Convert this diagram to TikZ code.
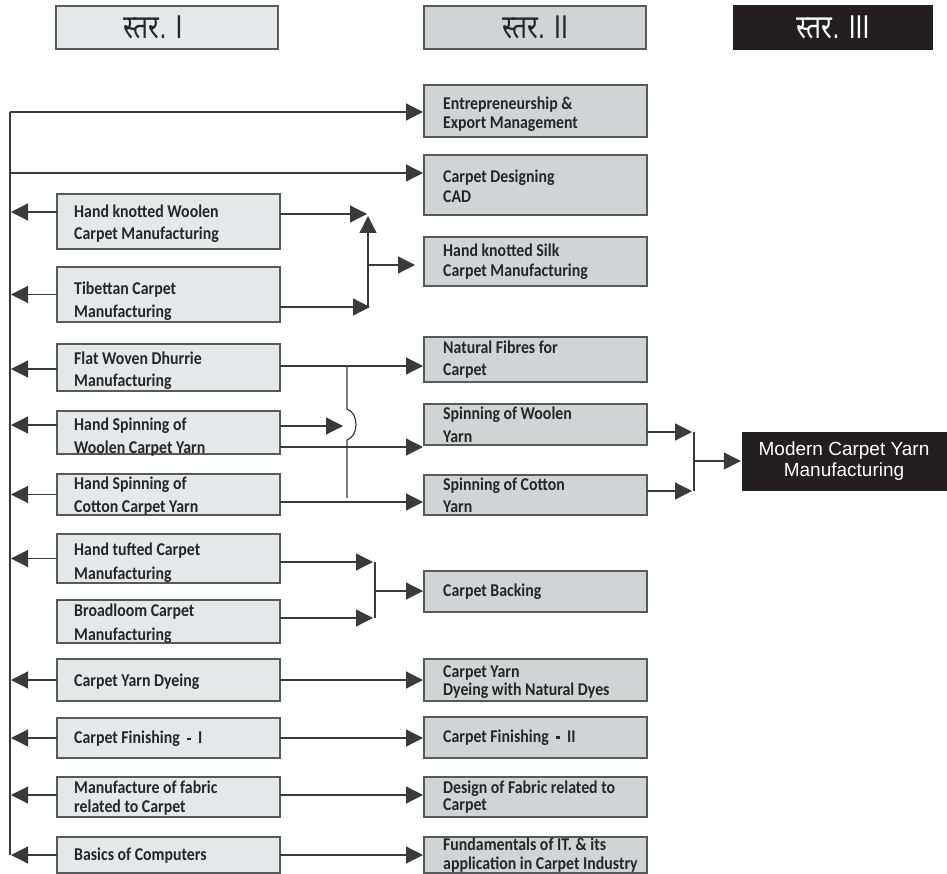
\documentclass[tikz,border=0pt]{standalone}
\usepackage{fontspec}
\usetikzlibrary{arrows.meta}
\newfontfamily\boxfont[FakeStretch=0.88]{Carlito}
\newfontfamily\devafont[Script=Devanagari,FakeStretch=0.8]{Noto Sans}
\newfontfamily\hlatin[FakeStretch=0.75]{Liberation Sans}
\newfontfamily\arialfont{Liberation Sans}
\definecolor{lfill}{HTML}{E6E7E8}
\definecolor{mfill}{HTML}{D1D3D4}
\definecolor{dark}{HTML}{231F20}
\definecolor{bord}{HTML}{58595B}
\definecolor{lnc}{HTML}{3A3A3A}
\tikzset{
  lbox/.style={draw=bord, line width=1.4pt, fill=lfill, inner sep=0pt, outer sep=0pt},
  mbox/.style={draw=bord, line width=1.4pt, fill=mfill, inner sep=0pt, outer sep=0pt},
  lboxtxt/.style={anchor=west, xshift=17pt, align=left, inner sep=0pt,
    font=\boxfont\bfseries\fontsize{18}{22}\selectfont, text=black!85},
  mboxtxt/.style={anchor=west, xshift=19pt, align=left, inner sep=0pt,
    font=\boxfont\bfseries\fontsize{18}{19.5}\selectfont, text=black!85},
  hbox/.style={draw=bord, line width=1.2pt, minimum width=222pt, minimum height=43pt,
    inner sep=0pt, font=\fontsize{33}{33}\selectfont, text=black!85},
  ln/.style={draw=lnc, line width=1.2pt},
  arr/.style={ln, shorten >=1pt, -{Triangle[length=17pt,width=17pt]}}
}
\newcommand\mybox[8][0]{\node[#2, minimum width={#6-#4}, minimum height={#7-#5},
  label={[#2txt, yshift=-#1pt]west:{#8}}] (#3) at ({(#4+#6)/2},{(#5+#7)/2}) {};}
\newcommand\finDash{\hspace{7pt}\raisebox{3.5pt}{\rule{4.5pt}{2.6pt}}\hspace{7pt}}
\begin{document}
\begin{tikzpicture}[x=1pt,y=-1pt]
\useasboundingbox (0,0) rectangle (947,874);
% headers
\node[hbox, fill=lfill] (h1) at (167,27.5) {\hspace*{-28pt}{\devafont\bfseries स्तर}{\hlatin . I}};
\node[hbox, fill=mfill] (h2) at (535,27.5) {{\devafont\bfseries स्तर}{\hlatin . II}};
\node[hbox, fill=dark, draw=dark, minimum width=198pt, text=white] (h3) at (833,27.5) {{\devafont\bfseries स्तर}{\hlatin . III}};
% left column
\mybox[2]{lbox}{hkw}{57}{194}{280}{249}{Hand knotted Woolen\\Carpet Manufacturing}
\mybox[7]{lbox}{tib}{57}{267}{280}{322}{Tibettan Carpet\\[1pt]Manufacturing}
\mybox[3]{lbox}{flat}{57}{344}{280}{391}{Flat Woven Dhurrie\\Manufacturing}
\mybox[5]{lbox}{hsw}{57}{411}{280}{454}{Hand Spinning of\\[1pt]Woolen Carpet Yarn}
\mybox[2]{lbox}{hsc}{57}{474}{280}{515}{Hand Spinning of\\[1pt]Cotton Carpet Yarn}
\mybox[4]{lbox}{htc}{57}{534}{280}{583}{Hand tufted Carpet\\[2pt]Manufacturing}
\mybox[2]{lbox}{brl}{57}{600}{280}{643}{Broadloom Carpet\\[2pt]Manufacturing}
\mybox[2]{lbox}{cyd}{57}{659}{280}{701}{Carpet Yarn Dyeing}
\mybox[1]{lbox}{cfa}{57}{718}{280}{758}{Carpet Finishing\finDash I}
\mybox[1]{lbox}{mfc}{57}{777}{280}{817}{Manufacture of fabric\\[-3pt]related to Carpet}
\mybox[1]{lbox}{bas}{57}{837}{280}{873}{Basics of Computers}
% middle column
\mybox[3]{mbox}{ent}{424}{85}{647}{137}{Entrepreneurship \&\\Export Management}
\mybox[1]{mbox}{cad}{424}{155}{647}{215}{Carpet Designing\\CAD}
\mybox{mbox}{silk}{424}{237}{647}{286}{Hand knotted Silk\\[1pt]Carpet Manufacturing}
\mybox{mbox}{nat}{424}{337}{647}{382}{Natural Fibres for\\[3pt]Carpet}
\mybox{mbox}{sw}{424}{404}{647}{445}{Spinning of Woolen\\[3pt]Yarn}
\mybox{mbox}{sc}{424}{475}{647}{515}{Spinning of Cotton\\[3pt]Yarn}
\mybox{mbox}{back}{424}{571}{647}{612}{Carpet Backing}
\mybox[2]{mbox}{cynd}{424}{659}{647}{701}{Carpet Yarn\\[-2pt]Dyeing with Natural Dyes}
\mybox{mbox}{cfb}{424}{717}{647}{758}{Carpet Finishing\finDash II}
\mybox{mbox}{dfc}{424}{777}{647}{817}{Design of Fabric related to\\[-2pt]Carpet}
\mybox{mbox}{fit}{424}{837}{647}{873}{Fundamentals of IT. \& its\\[-1pt]application in Carpet Industry}
% right
\node[draw=dark, fill=dark, minimum width=204pt, minimum height=58pt, inner sep=0pt,
  text=white, align=center, font=\arialfont\fontsize{19}{21}\selectfont] (modern) at (844,461)
  {Modern Carpet Yarn\\Manufacturing};
% left spine
\coordinate (ltop) at (10,112);
\coordinate (lbot) at (10,855);
\coordinate (c2) at (10,173);
\draw[ln] (ltop) -- (lbot);
\draw[arr] (ltop) -- (ltop -| ent.west);
\draw[arr] (c2) -- (c2 -| cad.west);
\foreach \n/\s in {hkw/9.5, tib/0, flat/-1.5, hsw/7.5, hsc/0, htc/0, cyd/0, cfa/0, mfc/2, bas/0}
  \draw[arr] ([yshift=\s pt]\n.west) -- ([yshift=\s pt]\n.west -| ltop);
% hand knotted junction
\coordinate (j1) at (368,214);
\coordinate (j1b) at (371,307);
\coordinate (j1v) at (368,307);
\coordinate (j1u) at (368,215);
\coordinate (j1m) at (368,265);
\draw[arr] (hkw.east |- j1) -- (j1);
\draw[arr] (tib.east |- j1b) -- (j1b);
\draw[arr] (j1v) -- (j1u);
\draw[arr] (j1m) -- ([xshift=-8pt]j1m -| silk.west);
% fibres / spinning
\coordinate (v1) at (347,366);
\coordinate (v1b) at (347,498);
\coordinate (hop) at (344,426);
\coordinate (y447) at (0,447);
\coordinate (y502) at (0,502);
\draw[arr] (flat.east |- v1) -- (v1 -| nat.west);
\draw[ln] (v1) -- (347,409) .. controls (359,413) and (359,436) .. (347,440) -- (v1b);
\draw[arr] (hsw.east |- hop) -- (hop);
\draw[arr] (hsw.east |- y447) -- (sw.west |- y447);
\draw[arr] (hsc.east |- y502) -- (sc.west |- y502);
% modern junction
\coordinate (j3a) at (693,432);
\coordinate (j3b) at (693,491);
\coordinate (j3t) at (694,432);
\coordinate (j3d) at (694,491);
\coordinate (j3m) at (694,461);
\draw[arr] (sw.east |- j3a) -- (j3a);
\draw[arr] (sc.east |- j3b) -- (j3b);
\draw[ln] (j3t) -- (j3d);
\draw[arr] (j3m) -- (j3m -| modern.west);
% backing junction
\coordinate (j4a) at (374,562);
\coordinate (j4b) at (374,618);
\coordinate (j4t) at (375,562);
\coordinate (j4d) at (375,618);
\coordinate (j4m) at (375,591);
\draw[arr] (htc.east |- j4a) -- (j4a);
\draw[arr] (brl.east |- j4b) -- (j4b);
\draw[ln] (j4t) -- (j4d);
\draw[arr] (j4m) -- (j4m -| back.west);
% straight pairs
\draw[arr] (cyd.east) -- (cyd.east -| cynd.west);
\draw[arr] (cfa.east) -- (cfa.east -| cfb.west);
\draw[arr] ([yshift=2pt]mfc.east) -- ([yshift=2pt]mfc.east -| dfc.west);
\draw[arr] (bas.east) -- (bas.east -| fit.west);
\end{tikzpicture}
\end{document}
